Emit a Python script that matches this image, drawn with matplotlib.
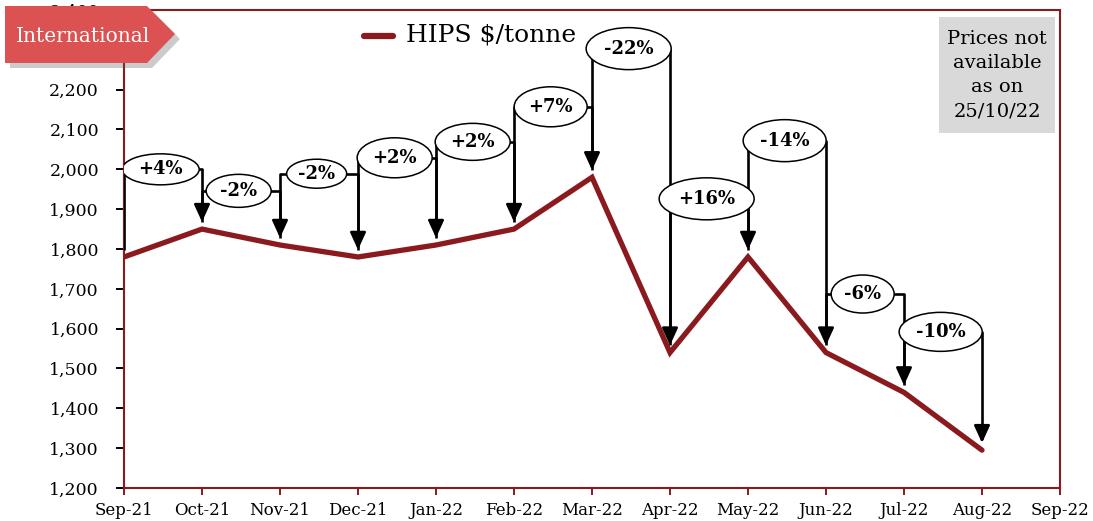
import matplotlib.pyplot as plt
from matplotlib.patches import Ellipse, Polygon, Rectangle

plt.rcParams['font.family'] = ['DejaVu Serif']

# HIPS price, $/tonne, monthly
months = ["Sep-21", "Oct-21", "Nov-21", "Dec-21", "Jan-22", "Feb-22", "Mar-22",
          "Apr-22", "May-22", "Jun-22", "Jul-22", "Aug-22", "Sep-22"]
price = [1780, 1850, 1810, 1780, 1810, 1850, 1980, 1540, 1780, 1540, 1440, 1295]
change_labels = ["+4%", "-2%", "-2%", "+2%", "+2%", "+7%", "-22%",
                 "+16%", "-14%", "-6%", "-10%"]

# bubble layout for the month-on-month callouts (centre height, size in px)
bubble_y = [2000, 1946, 1989, 2029, 2069, 2157, 2303, 1926, 2072, 1687, 1592]
bubble_w = [77, 65, 60, 75, 75, 73, 85, 95, 83, 63, 83]
bubble_h = [31, 33, 29, 40, 37, 40, 42, 42, 42, 38, 39]

W, H = 1093, 521
RED = '#8b1a1f'
fig = plt.figure(figsize=(W / 100, H / 100), dpi=100)
ax = fig.add_axes([124 / W, 1 - 488 / H, (1060 - 124) / W, (488 - 10) / H])

ax.set_xlim(0, 12)
ax.set_ylim(1200, 2400)
px_x = 12 / (1060 - 124)      # months per pixel
px_y = 1200 / (488 - 10)      # $ per pixel

ax.plot(range(len(price)), price, color=RED, lw=3.8, solid_capstyle='round',
        solid_joinstyle='miter', zorder=3)

gap = 18
for i, lab in enumerate(change_labels):
    x0, x1 = i, i + 1
    cy = bubble_y[i]
    tip = price[i + 1] + gap
    ax.plot([x0, x0, x1, x1], [price[i] + gap, cy, cy, tip + 10],
            color='black', lw=1.9, zorder=4, solid_capstyle='butt')
    ax.annotate("", xy=(x1, tip), xytext=(x1, tip + 45),
                arrowprops=dict(arrowstyle="-|>,head_length=1.05,head_width=0.48",
                                mutation_scale=10, color='black', lw=1.9,
                                shrinkA=0, shrinkB=0),
                zorder=4)
    e = Ellipse((i + 0.47, cy), bubble_w[i] * px_x, bubble_h[i] * px_y,
                facecolor='white', edgecolor='black', lw=1.1, zorder=5)
    ax.add_patch(e)
    ax.text(i + 0.47, cy, lab, ha='center', va='center', fontsize=13,
            fontweight='bold', zorder=6)

ax.set_xticks(range(len(months)))
ax.set_xticklabels(months, fontsize=12)
ax.set_yticks(range(1200, 2401, 100))
ax.set_yticklabels([f"{v:,}" for v in range(1200, 2401, 100)], fontsize=12.5)
ax.tick_params(axis='x', length=5, width=1.4, color=RED, pad=5)
ax.tick_params(axis='y', length=6, width=1.4, color='black', pad=12)
for s in ax.spines.values():
    s.set_color(RED)
    s.set_linewidth(1.5)

# legend
ax.plot([3.08, 3.45], [2335, 2335], color=RED, lw=4.5, solid_capstyle='round')
ax.text(3.62, 2337, "HIPS $/tonne", fontsize=18, va='center', ha='left')

# note box
def fx(p):
    return p / W

def fy(p):
    return 1 - p / H

fig.patches.append(Rectangle((fx(939), fy(133)), fx(1055) - fx(939), fy(17) - fy(133),
                             transform=fig.transFigure, facecolor='#d9d9d9',
                             edgecolor='none', zorder=5))
fig.text(fx(997), fy(75), "Prices not\navailable\nas on\n25/10/22", ha='center',
         va='center', fontsize=14, linespacing=1.45, zorder=6)

# region tag
tag = [(5, 6), (147, 6), (175, 34), (147, 63), (5, 63)]
shadow = Polygon([(fx(x + 5), fy(y + 5)) for x, y in tag], closed=True,
                 transform=fig.transFigure, facecolor='#555555', alpha=0.3,
                 edgecolor='none', zorder=7)
flag = Polygon([(fx(x), fy(y)) for x, y in tag], closed=True,
               transform=fig.transFigure, facecolor='#dc5252', edgecolor='none',
               zorder=8)
fig.patches.extend([shadow, flag])
fig.text(fx(83), fy(37), "International", color='white', fontsize=14.5,
         ha='center', va='center', zorder=9)

fig.savefig("out.png", dpi=100)
